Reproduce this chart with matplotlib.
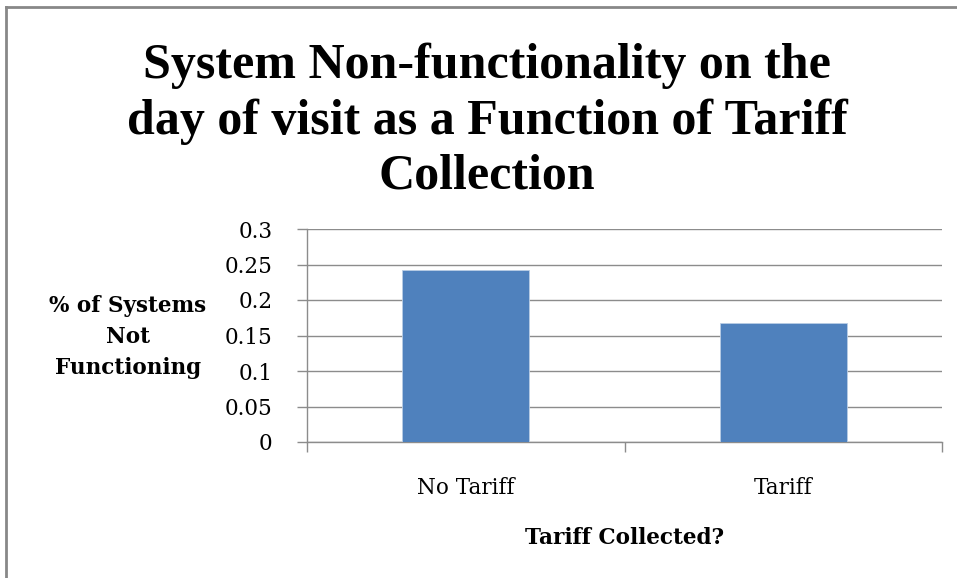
import matplotlib.pyplot as plt
from matplotlib.lines import Line2D

categories = ['No Tariff', 'Tariff']
not_functioning = [0.242, 0.168]
y_ticks = [0, 0.05, 0.1, 0.15, 0.2, 0.25, 0.3]
y_tick_labels = ['0', '0.05', '0.1', '0.15', '0.2', '0.25', '0.3']

title = 'System Non-functionality on the\nday of visit as a Function of Tariff\nCollection'
serif = ['DejaVu Serif']
title_font = ['Liberation Serif', 'DejaVu Serif']

fig = plt.figure(figsize=(9.57, 5.78), dpi=100)
ax = fig.add_axes([307 / 957, 1 - 442 / 578, 635 / 957, 213 / 578])

x = range(len(categories))
ax.bar(x, not_functioning, width=0.4, color='#4f81bd', edgecolor='#b9cde5', linewidth=0.6, zorder=3)

ax.set_xlim(-0.5, len(categories) - 0.5)
ax.set_ylim(0, 0.3)
ax.set_yticks(y_ticks)
ax.set_yticklabels(y_tick_labels, fontsize=15.5, family=serif)
ax.yaxis.grid(True, color='#8c8c8c', linewidth=1.0, zorder=0)

# category labels between the boundary ticks
ax.set_xticks([-0.5, 0.5, 1.5])
ax.set_xticklabels([])
ax.set_xticks(list(x), minor=True)
ax.set_xticklabels(categories, minor=True, fontsize=15.5, family=serif)
ax.tick_params(axis='x', which='minor', length=0, pad=25)
ax.tick_params(axis='x', which='major', length=7, color='#8c8c8c', width=1)
ax.tick_params(axis='y', length=7, color='#8c8c8c', width=1, pad=18)

for side in ['top', 'right']:
    ax.spines[side].set_visible(False)
for side in ['left', 'bottom']:
    ax.spines[side].set_color('#8c8c8c')
    ax.spines[side].set_linewidth(1.0)

ax.set_xlabel('Tariff Collected?', fontsize=15.5, fontweight='bold', family=serif, labelpad=20)

fig.text(128 / 957, 1 - 337 / 578, '% of Systems\nNot\nFunctioning', ha='center', va='center',
         fontsize=15.5, fontweight='bold', family=serif, linespacing=1.55)

fig.text(487 / 957, 1 - 121 / 578, title, ha='center', va='center', fontsize=36,
         fontweight='bold', family=title_font, linespacing=1.25)

# frame around the chart area
fig.add_artist(Line2D([6 / 957, 1], [1 - 7 / 578, 1 - 7 / 578], color='#888888', linewidth=2,
                      transform=fig.transFigure))
fig.add_artist(Line2D([6 / 957, 6 / 957], [0, 1 - 7 / 578], color='#888888', linewidth=2,
                      transform=fig.transFigure))

fig.savefig('out.png', dpi=100)
